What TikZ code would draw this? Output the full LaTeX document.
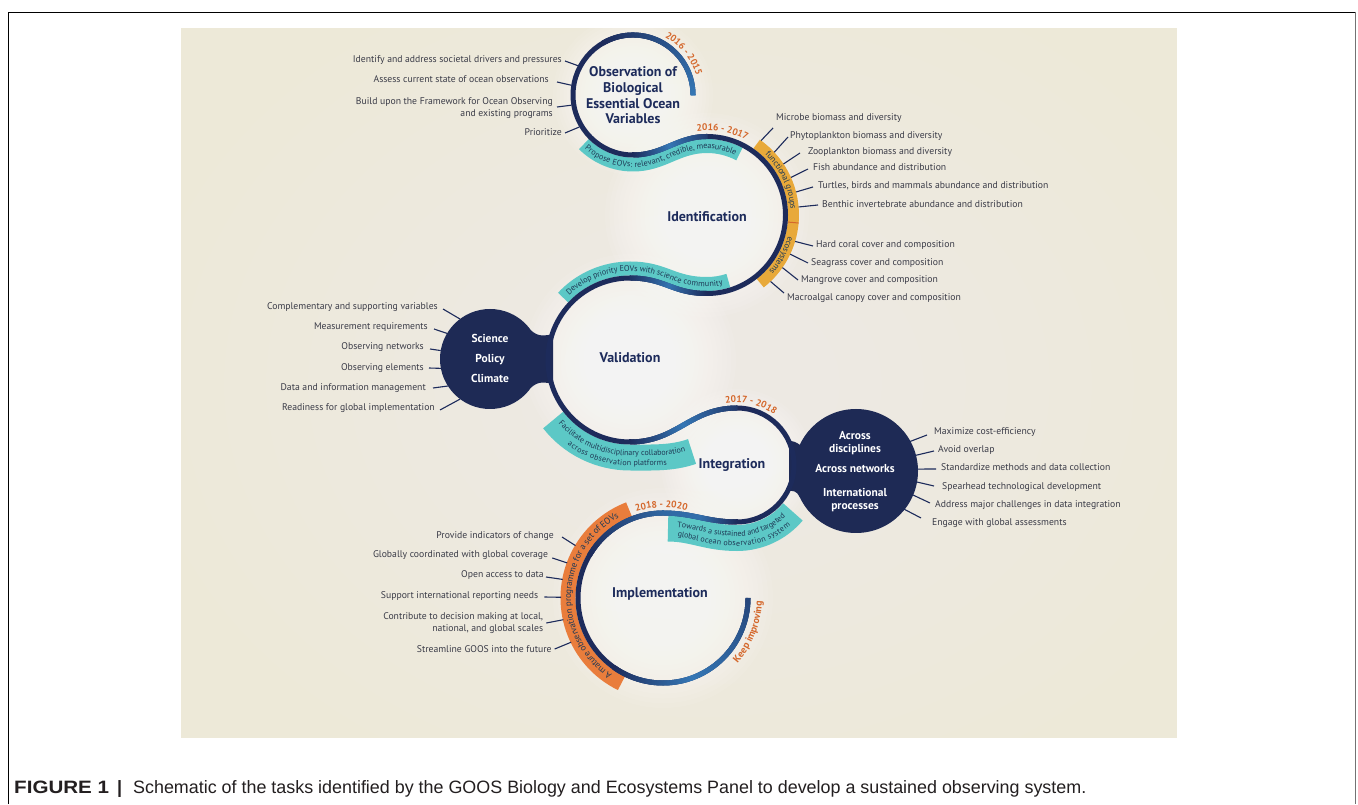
\documentclass[tikz,border=0pt]{standalone}
\usepackage{fontspec}
\setmainfont{PT Sans}
\newfontfamily\capfont{Liberation Sans}
\usetikzlibrary{calc,decorations.text,decorations.markings}
\definecolor{ringnavy}{HTML}{1D2B5B}
\definecolor{ringblue}{HTML}{3577B5}
\definecolor{tealb}{HTML}{5CC8C6}
\definecolor{bandtext}{HTML}{1F3A56}
\definecolor{yellowb}{HTML}{E8A93A}
\definecolor{orangeb}{HTML}{E97D3C}
\definecolor{yearc}{HTML}{D4672B}
\definecolor{labelc}{HTML}{3A3B47}
\definecolor{panelc}{HTML}{EDE9D8}
\definecolor{discnavy}{HTML}{1E2A55}
\definecolor{capc}{HTML}{231F20}
\begin{document}
\begin{tikzpicture}[x=1pt,y=1pt,
  lab/.style={font=\fontsize{9.7}{11.8}\selectfont, text=labelc, inner sep=0pt, text height=7pt, text depth=1.6pt},
  labr/.style={lab, anchor=east, align=right},
  labl/.style={lab, anchor=west, align=left},
  twoline/.style={text height=18.8pt, text depth=1.6pt},
  lnk/.style={draw=ringnavy, line width=1.1pt},
  title/.style={font=\fontsize{14}{15.7}\selectfont\bfseries, text=ringnavy, align=center, inner sep=0pt},
  wtitle/.style={font=\fontsize{11.5}{13}\selectfont\bfseries, text=white, align=center, inner sep=0pt},
  ring/.style={draw=ringnavy, line width=5pt},
  gradseg/.style 2 args={postaction={decorate, decoration={markings, mark=between positions 0 and 1 step 0.8pt with {\pgfmathsetmacro\gv{#1+(#2-#1)*\pgfkeysvalueof{/pgf/decoration/mark info/distance from start}/\pgfdecoratedpathlength}\fill[ringblue!\gv!ringnavy] (-0.75pt,-2.5pt) rectangle (0.75pt,2.5pt);}}}},
]
\useasboundingbox (0,0) rectangle (1358,804);
\fill[white] (0,0) rectangle (1358,804);
% frame
\draw[black, line width=0.9pt] (8,0) -- (8,792) -- (1355.5,792);
\draw[black!55, line width=1.2pt] (1355.5,792) -- (1355.5,0);
% panel with a soft central glow
\fill[panelc] (181,66) rectangle (1177,776);
\begin{scope}
  \clip (181,66) rectangle (1177,776);
  \foreach \k in {0,...,11} {
    \fill[white, fill opacity=0.035] (700,420) ellipse ({560*(1-0.075*\k)} and {430*(1-0.075*\k)});
  }
\end{scope}
% centres
\coordinate (c1) at (633,709);
\coordinate (c2) at (707,589);
\coordinate (c3) at (630,444);
\coordinate (c4) at (737,339);
\coordinate (c5) at (663,206);
\coordinate (sp) at (490,445);
\coordinate (ac) at (856,333);
% halos
\foreach \c/\R in {c1/80, c2/102, c3/106, c4/76, c5/110} {
  \foreach \k in {0,...,13} {
    \fill[white, fill opacity=0.08] (\c) circle ({\R*(1-0.043*\k)});
  }
}
% science disc and neck
\fill[discnavy] (sp) circle (50);
\fill[discnavy] (530.96,473.68) .. controls (538,467) and (545,468) .. (553,470) -- (553,420) .. controls (545,422) and (538,423) .. (530.96,416.32) -- cycle;
% across disc and neck
\fill[discnavy] (ac) circle (62);
\fill[discnavy] (799.8,359.2) .. controls (796,362) and (793,363) .. (789,363) -- (789,313) .. controls (793,313) and (796,314) .. (799.8,306.8) -- cycle;
% teal bands
\path[draw=tealb, line width=14pt, postaction={decorate, decoration={text along path, text align=center, text color=bandtext, raise=-2.7pt, text={|\fontsize{8.2}{9}\selectfont|Propose EOVs: relevant, credible, measurable}}}]
  ($(c1)+(225:69.5)$) arc[start angle=225,end angle=270,radius=69.5] .. controls (663,639.5) and (677,658) .. (707,658) arc[start angle=90,end angle=62,radius=69];
\path[draw=tealb, line width=14pt, postaction={decorate, decoration={text along path, text align=center, text color=bandtext, raise=-2.7pt, text={|\fontsize{8.2}{9}\selectfont|Develop priority EOVs with science community}}}]
  ($(c3)+(137:91.5)$) arc[start angle=137,end angle=90,radius=91.5] .. controls (665,535.5) and (672,520) .. (707,520) arc[start angle=-90,end angle=-72,radius=69];
\path[draw=tealb, line width=26pt,
  postaction={decorate, decoration={text along path, text align=center, text color=bandtext, raise=1.8pt, text={|\fontsize{8}{9}\selectfont|Facilitate multidisciplinary collaboration}}},
  postaction={decorate, decoration={text along path, text align=center, text color=bandtext, raise=-8pt, text={|\fontsize{8}{9}\selectfont|across observation platforms}}}]
  ($(c3)+(218:97.5)$) arc[start angle=218,end angle=270,radius=97.5] .. controls (652,346.5) and (672,345.5) .. (692,352.5);
\path[draw=tealb, line width=26pt,
  postaction={decorate, decoration={text along path, text align=center, text color=bandtext, raise=1.8pt, text={|\fontsize{8}{9}\selectfont|Towards a sustained and targeted}}},
  postaction={decorate, decoration={text along path, text align=center, text color=bandtext, raise=-8pt, text={|\fontsize{8}{9}\selectfont|global ocean observation system}}}]
  (668,275.5) .. controls (693,275.5) and (707,266) .. (737,266) arc[start angle=-90,end angle=-40,radius=73];
% yellow band
\path[draw=yellowb, line width=11pt] ($(c2)+(55:86.5)$) arc[start angle=55,end angle=-52,radius=86.5];
\draw[yearc, line width=1pt] ($(c2)+(-5:81)$) -- ($(c2)+(-5:92)$);
\path[decorate, decoration={text along path, text align=center, text color=bandtext, raise=-2.7pt, text={|\fontsize{8.5}{9}\selectfont|functional groups}}]
  ($(c2)+(55:86.5)$) arc[start angle=55,end angle=-5,radius=86.5];
\path[decorate, decoration={text along path, text align=center, text color=bandtext, raise=-2.7pt, text={|\fontsize{8.5}{9}\selectfont|ecosystems}}]
  ($(c2)+(-5:86.5)$) arc[start angle=-5,end angle=-52,radius=86.5];
% orange band
\path[draw=orangeb, line width=15pt, postaction={decorate, decoration={text along path, text align=center, text color=bandtext, raise=-3pt, text={|\fontsize{9}{10}\selectfont|A mature observation programme for a set of EOVs}}}]
  ($(c5)+(244:95)$) arc[start angle=244,end angle=111,radius=95];
% main ring
\draw[ring] (693,709) arc[start angle=0,end angle=270,radius=60]
  .. controls (663,649) and (677,667.5) .. (707,667.5)
  arc[start angle=90,end angle=-90,radius=78.5]
  .. controls (672,510.5) and (665,526) .. (630,526)
  arc[start angle=90,end angle=270,radius=82]
  .. controls (677,362) and (690,396) .. (737,396)
  arc[start angle=90,end angle=-90,radius=57]
  .. controls (707,282) and (693,291) .. (663,291)
  arc[start angle=90,end angle=360,radius=85];
% colour gradients along ring
\path[gradseg={0}{100}] ($(c1)+(120:60)$) arc[start angle=120,end angle=0,radius=60];
\path[gradseg={0}{100}] (633,649) .. controls (648,649) and (659,653.625) .. (670,658.25);
\path[gradseg={100}{25}] (670,658.25) .. controls (681,662.875) and (692,667.5) .. (707,667.5);
\path[gradseg={0}{95}] (707,510.5) .. controls (689.5,510.5) and (679,514.375) .. (668.5,518.25);
\path[gradseg={95}{10}] (668.5,518.25) .. controls (658,522.125) and (647.5,526) .. (630,526);
\path[gradseg={0}{100}] (630,362) .. controls (653.5,362) and (668.5,370.5) .. (683.5,379);
\path[gradseg={100}{20}] (683.5,379) .. controls (698.5,387.5) and (713.5,396) .. (737,396);
\path[gradseg={0}{90}] (737,282) .. controls (722,282) and (711,284.25) .. (700,286.5);
\path[gradseg={90}{80}] (700,286.5) .. controls (689,288.75) and (678,291) .. (663,291);
\path[gradseg={80}{0}] (663,291) arc[start angle=90,end angle=150,radius=85];
\path[gradseg={0}{100}] ($(c5)+(235:85)$) arc[start angle=235,end angle=290,radius=85];
\path[gradseg={100}{35}] ($(c5)+(290:85)$) arc[start angle=290,end angle=360,radius=85];
% year labels
\path[decorate, decoration={text along path, text align=center, text color=yearc, text={|\fontsize{9.5}{10}\selectfont\bfseries|2016 - 2015}}]
  ($(c1)+(75:66)$) arc[start angle=75,end angle=3,radius=66];
\path[decorate, decoration={text along path, text align=center, text color=yearc, text={|\fontsize{9.5}{10}\selectfont\bfseries|2016 - 2017}}]
  ($(c2)+(102:84.5)$) arc[start angle=102,end angle=57,radius=84.5];
\path[decorate, decoration={text along path, text align=center, text color=yearc, text={|\fontsize{9.5}{10}\selectfont\bfseries|2017 - 2018}}]
  ($(c4)+(104:62.5)$) arc[start angle=104,end angle=50,radius=62.5];
\path[decorate, decoration={text along path, text align=center, text color=yearc, text={|\fontsize{9.5}{10}\selectfont\bfseries|2018 - 2020}}]
  ($(c5)+(110:90.5)$) arc[start angle=110,end angle=72,radius=90.5];
\path[decorate, decoration={text along path, text align=center, text color=yearc, text={|\fontsize{10}{11}\selectfont\bfseries|Keep improving}}]
  ($(c5)+(-50:99)$) arc[start angle=-50,end angle=7,radius=99];
% titles
\node[title] (tobs) at (633,708.5) {Observation of\\Biological\\Essential Ocean\\Variables};
\node[title] (tid) at (707,587) {Identification};
\node[title] (tval) at (630,446) {Validation};
\node[title] (tint) at (732,339) {Integration};
\node[title] (timp) at (660,210) {Implementation};
\node[wtitle, font=\fontsize{11.5}{20}\selectfont\bfseries] (tsp) at (490,446) {Science\\Policy\\Climate};
\node[wtitle, font=\fontsize{11.5}{12.5}\selectfont\bfseries] (tad) at (855,361) {Across\\disciplines};
\node[wtitle] (tan) at (855,335) {Across networks};
\node[wtitle, font=\fontsize{11.5}{13}\selectfont\bfseries] (tip) at (855,303.5) {International\\processes};
% top circle labels
\node[labr] (t1) at (562,744) {Identify and address societal drivers and pressures};
\node[labr] (t2) at (549,724) {Assess current state of ocean observations};
\node[labr, twoline] (t3) at (553,696) {Build upon the Framework for Ocean Observing\\and existing programs};
\node[labr] (t4) at (562,671) {Prioritize};
\draw[lnk] ([xshift=3pt,yshift=-1pt]t1.east) -- ($(c1)+(152:62.5)$);
\draw[lnk] ([xshift=8pt,yshift=-2pt]t2.east) -- ($(c1)+(171:62.5)$);
\draw[lnk] ([xshift=4pt,yshift=1pt]t3.east) -- ($(c1)+(189.4:62.5)$);
\draw[lnk] ([xshift=3pt,yshift=0pt]t4.east) -- ($(c1)+(210.8:62.5)$);
% identification labels
\node[labl] (m1) at (776,686) {Microbe biomass and diversity};
\node[labl] (m2) at (790,668) {Phytoplankton biomass and diversity};
\node[labl] (m3) at (808,652) {Zooplankton biomass and diversity};
\node[labl] (m4) at (813,636) {Fish abundance and distribution};
\node[labl] (m5) at (818,618) {Turtles, birds and mammals abundance and distribution};
\node[labl] (m6) at (822,599) {Benthic invertebrate abundance and distribution};
\node[labl] (m7) at (816,559) {Hard coral cover and composition};
\node[labl] (m8) at (811,541) {Seagrass cover and composition};
\node[labl] (m9) at (801,524) {Mangrove cover and composition};
\node[labl] (m10) at (787,506) {Macroalgal canopy cover and composition};
\draw[lnk] ($(c2)+(54:92)$) -- ([xshift=-3pt,yshift=-10pt]m1.west);
\draw[lnk] ($(c2)+(43:92)$) -- ([xshift=-2pt,yshift=-1pt]m2.west);
\draw[lnk] ($(c2)+(33.7:92)$) -- ([xshift=-8pt,yshift=-1pt]m3.west);
\draw[lnk] ($(c2)+(24.1:92)$) -- ([xshift=-5pt,yshift=-1pt]m4.west);
\draw[lnk] ($(c2)+(14.5:92)$) -- ([xshift=-5pt,yshift=-1pt]m5.west);
\draw[lnk] ($(c2)+(5:92)$) -- ([xshift=-4pt]m6.west);
\draw[lnk] ($(c2)+(-16.7:92)$) -- ([xshift=-3pt,yshift=-1pt]m7.west);
\draw[lnk] ($(c2)+(-25.2:92)$) -- ([xshift=-3pt]m8.west);
\draw[lnk] ($(c2)+(-34.9:92)$) -- ([xshift=-3pt]m9.west);
\draw[lnk] ($(c2)+(-46.3:92)$) -- ([xshift=-3pt,yshift=5pt]m10.west);
% science labels
\node[labr] (s1) at (438,497) {Complementary and supporting variables};
\node[labr] (s2) at (428,477) {Measurement requirements};
\node[labr] (s3) at (424,457) {Observing networks};
\node[labr] (s4) at (424,436) {Observing elements};
\node[labr] (s5) at (426,416) {Data and information management};
\node[labr] (s6) at (435,396) {Readiness for global implementation};
\draw[lnk] ([xshift=5pt,yshift=-2pt]s1.east) -- ($(sp)+(126.9:50)$);
\draw[lnk] ([xshift=6pt,yshift=-2pt]s2.east) -- ($(sp)+(149.2:50)$);
\draw[lnk] ([xshift=6pt,yshift=-2pt]s3.east) -- ($(sp)+(170.3:50)$);
\draw[lnk] ([xshift=5pt]s4.east) -- ($(sp)+(190.8:50)$);
\draw[lnk] ([xshift=7pt]s5.east) -- ($(sp)+(212.7:50)$);
\draw[lnk] ([xshift=5pt,yshift=-2pt]s6.east) -- ($(sp)+(233.3:50)$);
% across labels
\node[labl] (a1) at (934,372) {Maximize cost-efficiency};
\node[labl] (a2) at (938,354) {Avoid overlap};
\node[labl] (a3) at (941,336) {Standardize methods and data collection};
\node[labl] (a4) at (942,317) {Spearhead technological development};
\node[labl] (a5) at (935,299) {Address major challenges in data integration};
\node[labl] (a6) at (932,281) {Engage with global assessments};
\draw[lnk] ($(ac)+(28.7:61)$) -- ([xshift=-7pt,yshift=-3pt]a1.west);
\draw[lnk] ($(ac)+(14.7:61)$) -- ([xshift=-4pt,yshift=-1pt]a2.west);
\draw[lnk] ($(ac)+(1.8:61)$) -- ([xshift=-5pt,yshift=-1pt]a3.west);
\draw[lnk] ($(ac)+(-10.2:61)$) -- ([xshift=-8pt,yshift=1pt]a4.west);
\draw[lnk] ($(ac)+(-22.8:61)$) -- ([xshift=-5pt,yshift=2pt]a5.west);
\draw[lnk] ($(ac)+(-38.5:61)$) -- ([xshift=-11pt,yshift=5pt]a6.west);
% implementation labels
\node[labr] (i1) at (554,268) {Provide indicators of change};
\node[labr] (i2) at (548.3,249) {Globally coordinated with global coverage};
\node[labr] (i3) at (544,229) {Open access to data};
\node[labr] (i4) at (538.3,208) {Support international reporting needs};
\node[labr, twoline] (i5) at (543.3,181) {Contribute to decision making at local,\\national, and global scales};
\node[labr] (i6) at (551.7,154) {Streamline GOOS into the future};
\draw[lnk] ([xshift=8pt,yshift=-1pt]i1.east) -- ($(c5)+(149.1:102)$);
\draw[lnk] ([xshift=4pt,yshift=-3pt]i2.east) -- ($(c5)+(159.9:102)$);
\draw[lnk] ([xshift=2pt,yshift=-2pt]i3.east) -- ($(c5)+(169.5:102)$);
\draw[lnk] ([xshift=6pt,yshift=-1pt]i4.east) -- ($(c5)+(179.6:102)$);
\draw[lnk] ([xshift=3pt]i5.east) -- ($(c5)+(192.3:102)$);
\draw[lnk] ([xshift=3pt,yshift=1pt]i6.east) -- ($(c5)+(205.7:102)$);
% caption
\node[anchor=base west, inner sep=0pt, text=capc, font=\capfont\fontsize{17.9}{20}\selectfont\bfseries] (capa) at (14,11) {\scalebox{1.15}[1]{FIGURE 1}};
\node[anchor=base west, inner sep=0pt, text=capc, font=\capfont\fontsize{17.9}{20}\selectfont\bfseries] (capb) at (117,11) {|};
\node[anchor=base west, inner sep=0pt, text=capc, font=\capfont\fontsize{17.9}{20}\selectfont] (capc) at (133,11) {Schematic of the tasks identified by the GOOS Biology and Ecosystems Panel to develop a sustained observing system.};
\end{tikzpicture}
\end{document}
